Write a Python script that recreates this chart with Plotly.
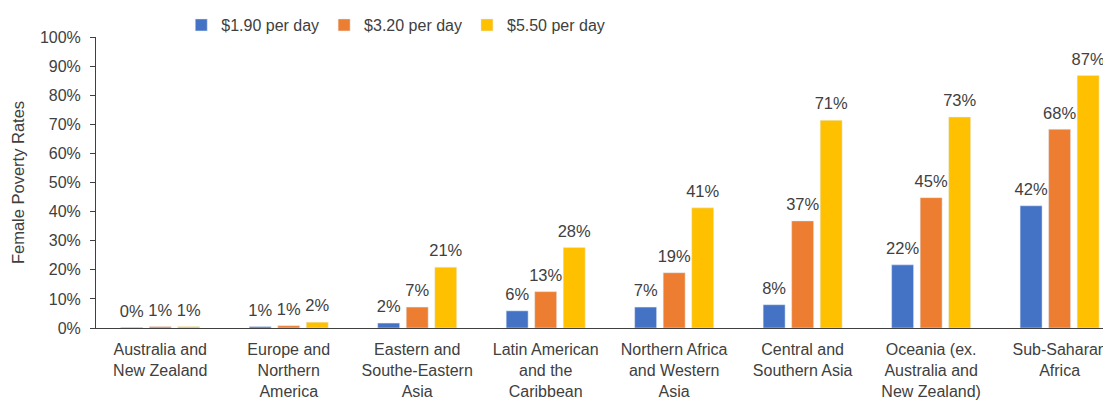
import plotly.graph_objects as go

categories = [
    "Australia and<br>New Zealand",
    "Europe and<br>Northern<br>America",
    "Eastern and<br>Southe-Eastern<br>Asia",
    "Latin American<br>and the<br>Caribbean",
    "Northern Africa<br>and Western<br>Asia",
    "Central and<br>Southern Asia",
    "Oceania (ex.<br>Australia and<br>New Zealand)",
    "Sub-Saharan<br>Africa",
]
series_names = ["$1.90 per day", "$3.20 per day", "$5.50 per day"]
v190 = [0.002, 0.005, 0.017, 0.059, 0.072, 0.08, 0.217, 0.42]
v320 = [0.005, 0.008, 0.072, 0.125, 0.19, 0.368, 0.448, 0.683]
v550 = [0.005, 0.02, 0.209, 0.277, 0.413, 0.714, 0.725, 0.868]
labels190 = ["0%", "1%", "2%", "6%", "7%", "8%", "22%", "42%"]
labels320 = ["1%", "1%", "7%", "13%", "19%", "37%", "45%", "68%"]
labels550 = ["1%", "2%", "21%", "28%", "41%", "71%", "73%", "87%"]
colors = ["#4472C4", "#ED7D31", "#FFC000"]

font = "Liberation Sans, Arial, sans-serif"
txt = "#404040"
fig = go.Figure()
groups = ["g1", "g2", "g3"]
for name, vals, col, g in zip(series_names, [v190, v320, v550], colors, groups):
    fig.add_trace(go.Bar(
        x=categories, y=vals, name=name, marker_color=col,
        offsetgroup=g, alignmentgroup="bars",
    ))
for vals, labs, g in zip([v190, v320, v550], [labels190, labels320, labels550], groups):
    fig.add_trace(go.Scatter(
        x=categories, y=vals, text=labs, mode="text+markers",
        marker=dict(size=9, opacity=0), textposition="top center",
        textfont=dict(size=16.5, color=txt, family=font),
        offsetgroup=g, alignmentgroup="pts", showlegend=False,
        hoverinfo="skip", cliponaxis=False,
    ))

fig.update_layout(
    width=1103, height=392,
    margin=dict(l=88, r=0, t=29, b=72),
    paper_bgcolor="white", plot_bgcolor="white",
    barmode="group", bargap=0.334, bargroupgap=0.23,
    scattermode="group", scattergap=0.334,
    font=dict(family=font, size=16, color=txt),
    showlegend=True,
    legend=dict(orientation="h", x=0.084, xanchor="left", y=1.0995, yanchor="top",
                font=dict(size=16, color=txt, family=font),
                itemwidth=30, tracegroupgap=0, bgcolor="rgba(0,0,0,0)"),
)
fig.update_xaxes(
    range=[-0.5, 7.40], showline=True, linecolor="#404040", linewidth=1,
    ticks="", tickfont=dict(size=16, color=txt, family=font),
    ticklabelstandoff=7,
    showgrid=False, automargin=False,
)
fig.update_yaxes(
    range=[0, 1.0], dtick=0.1, tickformat=".0%", showline=True,
    linecolor="#404040", linewidth=1, ticks="outside", ticklen=5,
    tickcolor="#404040", showgrid=False, zeroline=False,
    tickfont=dict(size=16, color=txt, family=font),
    ticklabelstandoff=6,
    title=dict(text="Female Poverty Rates", standoff=11,
               font=dict(size=16.5, color=txt, family=font)),
    automargin=False,
)
fig.write_html("out.html")
